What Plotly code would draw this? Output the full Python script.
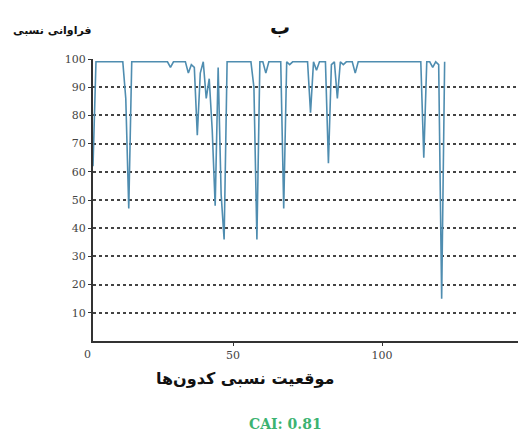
import plotly.graph_objects as go

# Relative codon position and relative frequency (%)
positions = list(range(3, 122))
frequency = [
    62, 99, 99, 99, 99, 99, 99, 99, 99, 99, 99, 86, 47, 99, 99, 99,   # 3-18
    99, 99, 99, 99, 99, 99, 99, 99, 99, 99, 97, 99, 99, 99, 99, 99,   # 19-34
    95, 98, 97, 73, 95, 99, 86, 93, 75, 48, 97, 52, 36, 99, 99, 99,   # 35-50
    99, 99, 99, 99, 99, 99, 90, 36, 99, 99, 95, 99, 99, 99, 99, 99,   # 51-66
    47, 99, 98, 99, 99, 99, 99, 99, 99, 81, 99, 96, 99, 99, 99, 63,   # 67-82
    98, 99, 86, 99, 98, 99, 99, 99, 95, 99, 99, 99, 99, 99, 99, 99,   # 83-98
    99, 99, 99, 99, 99, 99, 99, 99, 99, 99, 99, 99, 99, 99, 99, 65,   # 99-114
    99, 99, 97, 99, 98, 15, 99,                                       # 115-121
]

x_ticks = [0, 50, 100]
y_ticks = [10, 20, 30, 40, 50, 60, 70, 80, 90, 100]

title_text = "ب"
y_title = "فراوانی نسبی"
x_title = "موقعیت نسبی کدون‌ها"
cai_text = "CAI: 0.81"

PL, PW = 85, 433  # plot left offset and width inside the figure

fig = go.Figure()
fig.add_trace(go.Scatter(
    x=positions, y=frequency, mode="lines",
    line=dict(color="#4f8db0", width=1.6),
    hoverinfo="x+y",
))

fig.update_layout(
    width=518, height=425,
    margin=dict(l=PL, r=0, t=51, b=92),
    paper_bgcolor="white", plot_bgcolor="white",
    showlegend=False,
    font=dict(family="DejaVu Sans", color="#333"),
    xaxis=dict(
        range=[3, 148.3], tickvals=x_ticks, showgrid=False, zeroline=False,
        showline=True, linecolor="#333", linewidth=2,
        ticks="outside", ticklen=3, tickcolor="#333",
        tickfont=dict(size=11, family="DejaVu Serif", color="#444"),
    ),
    yaxis=dict(
        range=[0, 100], tickvals=y_ticks, showgrid=True,
        gridcolor="#444", griddash="3px,3px", gridwidth=2, zeroline=False,
        showline=True, linecolor="#333", linewidth=2,
        ticks="outside", ticklen=3, tickcolor="#333",
        tickfont=dict(size=11, family="DejaVu Serif", color="#444"),
    ),
    annotations=[
        dict(text=str(x_ticks[0]), xref="paper", x=(87 - 93) / PW, xanchor="center",
             yref="paper", y=0, yanchor="top", yshift=-5, showarrow=False,
             font=dict(size=11, family="DejaVu Serif", color="#444")),
        dict(text="<b>" + title_text + "</b>", xref="paper", x=(280 - 93) / PW,
             xanchor="center", yref="paper", y=1, yanchor="bottom", yshift=18,
             showarrow=False, font=dict(size=20, color="#111")),
        dict(text="<b>" + y_title + "</b>", xref="paper", x=(52 - 93) / PW,
             xanchor="center", yref="paper", y=1, yanchor="bottom", yshift=20,
             showarrow=False, font=dict(size=11, color="#111")),
        dict(text="<b>" + x_title + "</b>", xref="paper", x=(245 - 93) / PW,
             xanchor="center", yref="paper", y=0, yanchor="top", yshift=-26,
             showarrow=False, font=dict(size=16, color="#111")),
        dict(text="<b>" + cai_text + "</b>", xref="paper", x=(285 - 93) / PW,
             xanchor="center", yref="paper", y=0, yanchor="top", yshift=-73,
             showarrow=False,
             font=dict(size=14, family="DejaVu Serif", color="#3cb371")),
    ],
)

fig.write_html("out.html")
